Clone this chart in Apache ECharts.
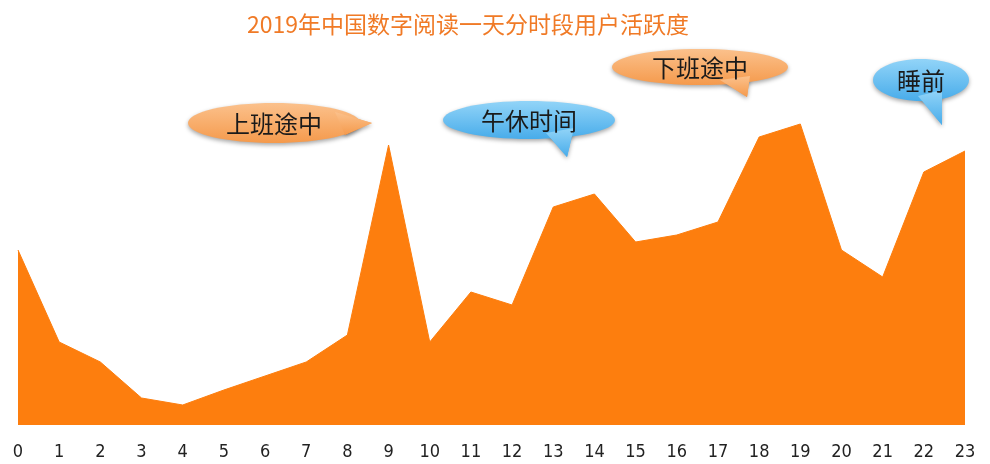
<!DOCTYPE html>
<html>
<head>
    <meta charset="utf-8">
    <title>ECharts</title>
    <script src="https://cdn.jsdelivr.net/npm/echarts@6/dist/echarts.min.js"></script>
    <style>
        html, body { margin: 0; padding: 0; background: #fff; }
    </style>
</head>
<body>
    <div id="main" style="width: 990px;height:464px;"></div>
    <script type="text/javascript">
        var myChart = echarts.init(document.getElementById('main'));

        // 时段
        var hours = ['0', '1', '2', '3', '4', '5', '6', '7', '8', '9', '10', '11',
            '12', '13', '14', '15', '16', '17', '18', '19', '20', '21', '22', '23'];
        // 活跃度(估读)
        var activity = [175, 83, 63, 27, 20, 35, 49, 63, 90, 280, 83, 133,
            120, 218, 231, 183, 190, 203, 288, 301, 175, 148, 253, 274];

        // 标注气泡
        var bubbleTexts = ['上班途中', '午休时间', '下班途中', '睡前'];
        var bubbleKinds = ['orange', 'blue', 'orange', 'blue'];

        var fills = {
            orange: new echarts.graphic.LinearGradient(0, 0, 0, 1, [
                { offset: 0, color: '#FBC18C' },
                { offset: 1, color: '#F59A4C' }
            ]),
            blue: new echarts.graphic.LinearGradient(0, 0, 0, 1, [
                { offset: 0, color: '#92D4F8' },
                { offset: 1, color: '#48ACEA' }
            ])
        };

        // 气泡位置: 椭圆中心, 半径, 尾巴
        var bubbleShapes = [
            { cx: 274, cy: 123, rx: 86, ry: 20, tail: [[335, 112], [372, 123], [345, 135]] },
            { cx: 529, cy: 120, rx: 86, ry: 19, tail: [[546, 133], [567, 157], [574, 128]] },
            { cx: 700, cy: 67, rx: 88, ry: 18, tail: [[720, 80], [747, 97], [750, 76]] },
            { cx: 921, cy: 80, rx: 48, ry: 21, tail: [[918, 96], [942, 125], [942, 90]] }
        ];

        function makeBubble(i) {
            var s = bubbleShapes[i];
            var fill = fills[bubbleKinds[i]];
            var shadow = { shadowBlur: 4, shadowColor: 'rgba(0,0,0,0.35)', shadowOffsetY: 2 };
            return {
                type: 'group',
                children: [{
                    type: 'polygon',
                    shape: { points: s.tail },
                    style: Object.assign({ fill: fill }, shadow)
                }, {
                    type: 'ellipse',
                    shape: { cx: s.cx, cy: s.cy, rx: s.rx, ry: s.ry },
                    style: Object.assign({ fill: fill }, shadow)
                }, {
                    type: 'polygon',
                    shape: { points: s.tail },
                    style: { fill: fill }
                }, {
                    type: 'text',
                    x: s.cx,
                    y: s.cy + 1,
                    style: {
                        text: bubbleTexts[i],
                        fill: '#1a1a1a',
                        font: '24px "Noto Sans CJK SC", sans-serif',
                        align: 'center',
                        verticalAlign: 'middle'
                    }
                }]
            };
        }

        var option = {
            backgroundColor: '#fff',
            title: {
                text: '2019年中国数字阅读一天分时段用户活跃度',
                left: 242,
                top: 8,
                textStyle: {
                    color: '#F07A26',
                    fontSize: 23,
                    fontWeight: 'normal',
                    fontFamily: '"Noto Sans CJK SC", sans-serif'
                }
            },
            grid: {
                left: 18,
                right: 25,
                top: 95,
                bottom: 39
            },
            xAxis: {
                type: 'category',
                boundaryGap: false,
                data: hours,
                axisLine: { show: false },
                axisTick: { show: false },
                axisLabel: {
                    color: '#222',
                    fontSize: 18,
                    margin: 18,
                    fontFamily: '"DejaVu Sans Condensed", "DejaVu Sans", sans-serif'
                }
            },
            yAxis: {
                type: 'value',
                min: 0,
                max: 330,
                show: false,
                splitLine: { show: false }
            },
            series: [{
                type: 'line',
                data: activity,
                symbol: 'none',
                lineStyle: { color: '#FD7E0E', width: 1 },
                areaStyle: { color: '#FD7E0E', opacity: 1 }
            }],
            graphic: bubbleShapes.map(function(s, i) { return makeBubble(i); })
        };

        myChart.setOption(option);
    </script>
</body>
</html>
